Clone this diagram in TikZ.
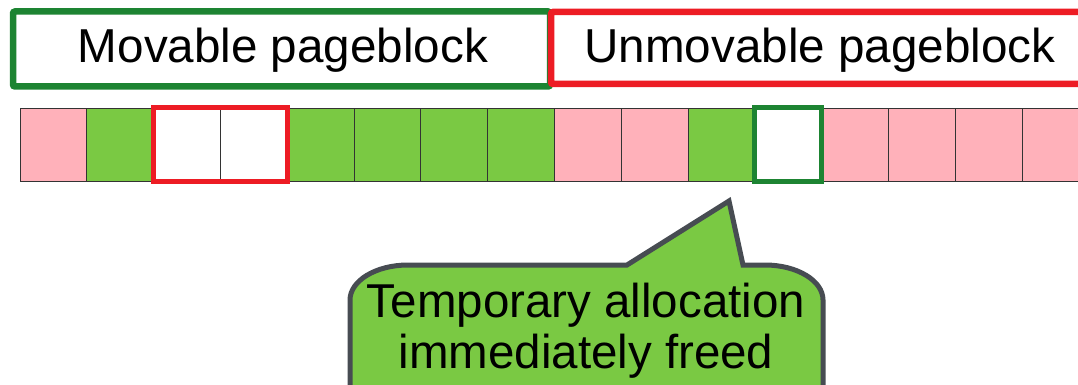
\documentclass[tikz,border=0pt]{standalone}
\usepackage{fontspec}
\setmainfont{Liberation Sans}
\usepackage{xcolor}
\usetikzlibrary{positioning}

\definecolor{pagepink}{HTML}{FFB1BA}
\definecolor{pagegreen}{HTML}{7AC943}
\definecolor{blockgreen}{HTML}{1D8432}
\definecolor{blockred}{HTML}{ED1C24}
\definecolor{calloutgray}{HTML}{474C52}

\begin{document}
\begin{tikzpicture}[
    x=1pt, y=-1pt,
    blockbox/.style={rectangle, line width=6.5pt, rounded corners=2pt, fill=white, inner sep=0pt},
    blocklabel/.style={font=\fontsize{47.6}{52}\selectfont},
    page/.style={rectangle, draw=black!80, line width=0.8pt, minimum width=66.8pt, minimum height=73pt, inner sep=0pt, outer sep=0pt},
    freed/.style={line width=5pt},
    callout/.style={draw=calloutgray, fill=pagegreen, line width=5pt},
    note/.style={align=center, font=\fontsize{47.5}{51}\selectfont}
]
    \useasboundingbox (0,0) rectangle (1078,385);
    \clip (0,0) rectangle (1078,385);

    % Pageblocks
    \draw[blockbox, draw=blockgreen] (13,11.5) rectangle (550,86.5);
    \node[blocklabel] (movable) at (283,50) {Movable pageblock};
    \draw[blockbox, draw=blockred] (551,12) rectangle (1092,84);
    \node[blocklabel] (unmovable) at (820,50) {Unmovable pageblock};

    % Row of pages
    \foreach \col [count=\i from 0] in {pagepink,pagegreen,white,white,pagegreen,pagegreen,pagegreen,pagegreen,pagepink,pagepink,pagegreen,white,pagepink,pagepink,pagepink,pagepink}
        \node[page, fill=\col, anchor=north west] (c\i) at (20+66.8*\i,108) {};

    % Freed pages
    \draw[freed, draw=blockred] (c2.north west) rectangle (c3.south east);
    \draw[freed, draw=blockgreen] (c11.north west) rectangle (c11.south east);

    % Callout
    \coordinate (tip) at (729,201);
    \draw[callout] (350,300) arc[start angle=180, end angle=270, x radius=58, y radius=35]
        -- (627,265) -- (tip) -- (743,265) -- (765,265)
        arc[start angle=270, end angle=360, x radius=58, y radius=35]
        -- (823,430) -- (350,430) -- cycle;
    \node[note] (temp) at (586,331) {Temporary allocation\\immediately freed};
\end{tikzpicture}
\end{document}
